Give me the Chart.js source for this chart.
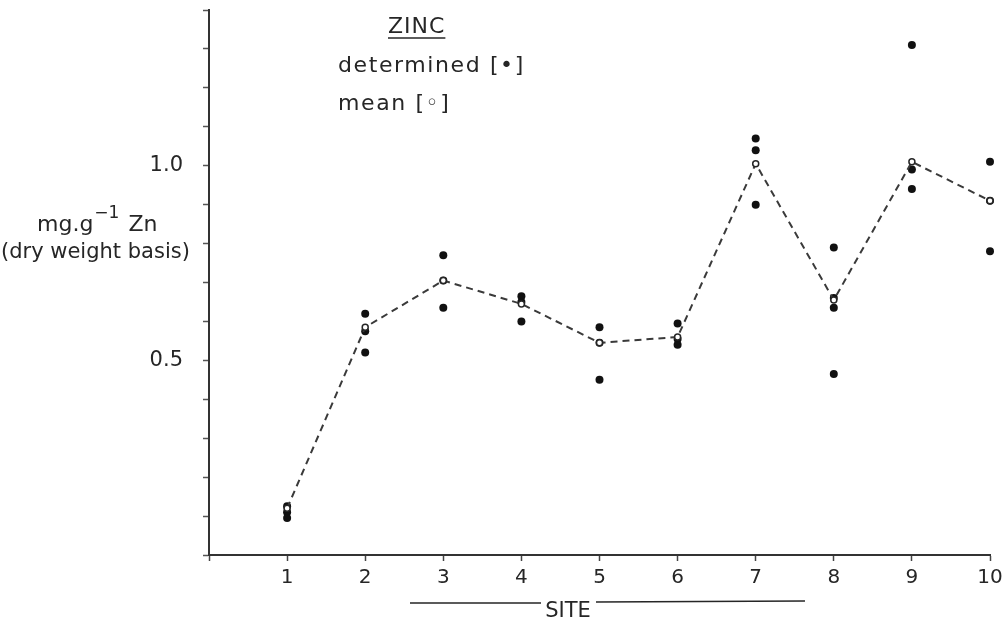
<!DOCTYPE html>
<html>
<head>
<meta charset="utf-8">
<script src="https://cdn.jsdelivr.net/npm/chart.js@4"></script>
<style>
  html, body { margin: 0; padding: 0; background: #fff; }
  #wrap { width: 1003px; height: 620px; position: relative; }
</style>
</head>
<body>
<div id="wrap"><canvas id="znChart" width="1003" height="620"></canvas></div>
<script>
// site numbers along the x axis
const sites = [1, 2, 3, 4, 5, 6, 7, 8, 9, 10];
// mean Zn per site (open circles, dashed line)
const meanZn = [0.12, 0.585, 0.705, 0.645, 0.545, 0.56, 1.005, 0.655, 1.01, 0.91];
// individual determinations per site (filled dots)
const determinedZn = [
    [0.125, 0.11, 0.095],
    [0.62, 0.575, 0.52],
    [0.77, 0.705, 0.635],
    [0.665, 0.65, 0.6],
    [0.585, 0.545, 0.45],
    [0.595, 0.555, 0.54],
    [1.07, 1.04, 0.9],
    [0.79, 0.66, 0.635, 0.465],
    [1.31, 0.99, 0.94],
    [1.01, 0.91, 0.78]
];
// labelled y ticks
const yLabels = [0.5, 1.0];

const ink = '#262626';
const font = '"DejaVu Sans", sans-serif';

const meanPoints = sites.map((s, i) => ({ x: s, y: meanZn[i] }));
const detPoints = [];
determinedZn.forEach((vals, i) => {
    vals.forEach(v => detPoints.push({ x: sites[i], y: v }));
});

// text that sits around the plot: key, axis captions
const captions = {
    id: 'captions',
    afterDraw(chart) {
        const ctx = chart.ctx;
        ctx.save();
        ctx.fillStyle = ink;
        ctx.strokeStyle = ink;
        ctx.textBaseline = 'alphabetic';
        ctx.textAlign = 'left';

        ctx.font = '22px ' + font;
        ctx.letterSpacing = '1px';
        ctx.fillText('ZINC', 388, 33);
        let w = ctx.measureText('ZINC').width;
        ctx.lineWidth = 1.5;
        ctx.beginPath();
        ctx.moveTo(388, 38);
        ctx.lineTo(388 + w, 38);
        ctx.stroke();

        ctx.letterSpacing = '1.6px';
        ctx.fillText('determined [•]', 338, 72);
        ctx.fillText('mean [◦]', 338, 110);
        ctx.letterSpacing = '0px';

        // y caption
        ctx.font = '22px ' + font;
        ctx.fillText('mg.g', 37, 231);
        let x = 37 + ctx.measureText('mg.g').width;
        ctx.font = '17px ' + font;
        ctx.fillText('−1', x + 1, 218);
        x += ctx.measureText('−1').width + 10;
        ctx.font = '22px ' + font;
        ctx.fillText('Zn', x, 231);
        ctx.font = '21px ' + font;
        ctx.fillText('(dry weight basis)', 1, 258);

        // x caption with rules either side
        ctx.font = '21px ' + font;
        ctx.textAlign = 'center';
        ctx.fillText('SITE', 568, 617);
        ctx.lineWidth = 1.3;
        ctx.beginPath();
        ctx.moveTo(410, 603);
        ctx.lineTo(541, 603);
        ctx.moveTo(596, 602);
        ctx.lineTo(805, 601);
        ctx.stroke();
        ctx.restore();
    }
};

const config = {
    type: 'scatter',
    data: {
        datasets: [
            {
                label: 'mean',
                type: 'line',
                data: meanPoints,
                borderColor: '#3a3a3a',
                borderWidth: 2,
                borderDash: [7, 5],
                pointRadius: 3,
                pointBackgroundColor: '#fff',
                pointBorderColor: ink,
                pointBorderWidth: 1.5,
                fill: false,
                tension: 0,
                clip: false
            },
            {
                label: 'determined',
                data: detPoints,
                pointRadius: 4,
                pointBackgroundColor: '#111',
                pointBorderColor: '#111',
                pointBorderWidth: 0,
                clip: false
            }
        ]
    },
    options: {
        responsive: false,
        animation: false,
        layout: { padding: { top: 10, right: 13, left: 0, bottom: 0 } },
        plugins: {
            legend: { display: false },
            tooltip: { enabled: false }
        },
        scales: {
            x: {
                type: 'linear',
                min: 0,
                max: 10,
                afterFit: scale => {
                    scale.height = 65;
                    scale.paddingLeft = 0;
                    scale.paddingRight = 0;
                },
                border: { color: '#333', width: 2 },
                grid: { drawOnChartArea: false, tickLength: 6, tickColor: '#444', tickWidth: 1.5 },
                ticks: {
                    stepSize: 1,
                    padding: 5,
                    color: ink,
                    font: { family: font, size: 20 },
                    callback: v => (v === 0 ? '' : v)
                }
            },
            y: {
                min: 0,
                max: 1.4,
                afterFit: scale => {
                    scale.width = 209;
                    scale.paddingTop = 0;
                    scale.paddingBottom = 0;
                },
                border: { color: '#333', width: 2 },
                grid: { drawOnChartArea: false, tickLength: 6, tickColor: '#555', tickWidth: 1.5 },
                ticks: {
                    stepSize: 0.1,
                    padding: 20,
                    color: ink,
                    font: { family: font, size: 21 },
                    callback: v => {
                        const hit = yLabels.find(t => Math.abs(t - v) < 1e-6);
                        return hit !== undefined ? hit.toFixed(1) : '';
                    }
                }
            }
        }
    },
    plugins: [captions]
};

const znChart = new Chart(document.getElementById('znChart'), config);
</script>
</body>
</html>
